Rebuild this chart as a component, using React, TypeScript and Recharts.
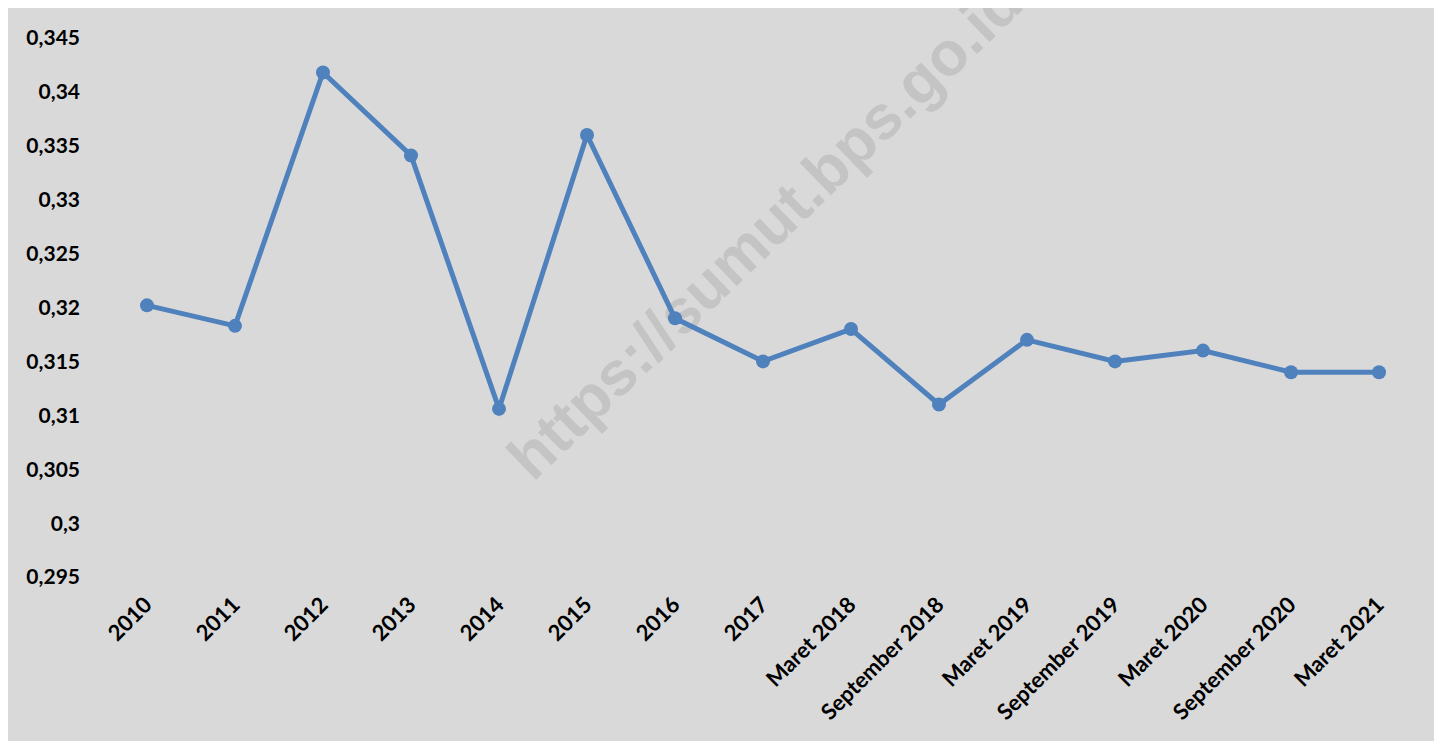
import { Line, LineChart, XAxis, YAxis } from 'recharts';

const PERIODS = [
  '2010',
  '2011',
  '2012',
  '2013',
  '2014',
  '2015',
  '2016',
  '2017',
  'Maret 2018',
  'September 2018',
  'Maret 2019',
  'September 2019',
  'Maret 2020',
  'September 2020',
  'Maret 2021',
];

const GINI = [
  0.3202, 0.3183, 0.3418, 0.3341, 0.3106, 0.336, 0.319, 0.315, 0.318, 0.311, 0.317, 0.315, 0.316, 0.314, 0.314,
];

const Y_TICKS = [0.295, 0.3, 0.305, 0.31, 0.315, 0.32, 0.325, 0.33, 0.335, 0.34, 0.345];

const BG = '#d9d9d9';
const LINE = '#4f81bd';
const FONT = 'Lato, "Open Sans", sans-serif';

const W = 1426;
const H = 733;

const rows = PERIODS.map((p, i) => ({ period: p, gini: GINI[i] }));

function fmt(v: number) {
  return Number(v.toFixed(3)).toString().replace('.', ',');
}

function XTick(props: any) {
  const { x, y, payload } = props;
  return (
    <g transform={`translate(${x + 2},${y + 17})`}>
      <text
        x={0}
        y={0}
        dy={6}
        textAnchor="end"
        transform="rotate(-45)"
        fontFamily={FONT}
        fontWeight={700}
        fontSize={22}
        fill="#000"
      >
        {payload.value}
      </text>
    </g>
  );
}

export default function App() {
  return (
    <>
      <style>{`body{margin:8px 0 0 8px;overflow:hidden}`}</style>
      <div style={{ position: 'relative', width: W, height: H, background: BG, overflow: 'hidden' }}>
        <div
          style={{
            position: 'absolute',
            left: 532,
            top: 420,
            transformOrigin: 'left bottom',
            transform: 'rotate(-44deg)',
            fontFamily: '"Liberation Sans", Arial, sans-serif',
            fontWeight: 700,
            fontSize: 62,
            lineHeight: '62px',
            color: '#c4c4c4',
            whiteSpace: 'nowrap',
          }}
        >
          https://sumut.bps.go.id
        </div>
        <div style={{ position: 'relative' }}>
          <LineChart width={W} height={H} data={rows} margin={{ top: 30, right: 11, left: 0, bottom: 0 }}>
            <XAxis
              dataKey="period"
              interval={0}
              height={164}
              axisLine={false}
              tickLine={false}
              padding={{ left: 44, right: 44 }}
              tick={<XTick />}
            />
            <YAxis
              domain={[0.295, 0.345]}
              ticks={Y_TICKS}
              width={95}
              axisLine={false}
              tickLine={false}
              tickSize={0}
              tickMargin={23}
              tickFormatter={fmt}
              tick={{ fill: '#000', fontFamily: FONT, fontWeight: 700, fontSize: 21 }}
            />
            <Line
              dataKey="gini"
              stroke={LINE}
              strokeWidth={5}
              dot={{ r: 7, fill: LINE, stroke: LINE, strokeWidth: 0 }}
              activeDot={false}
              isAnimationActive={false}
            />
          </LineChart>
        </div>
      </div>
    </>
  );
}
